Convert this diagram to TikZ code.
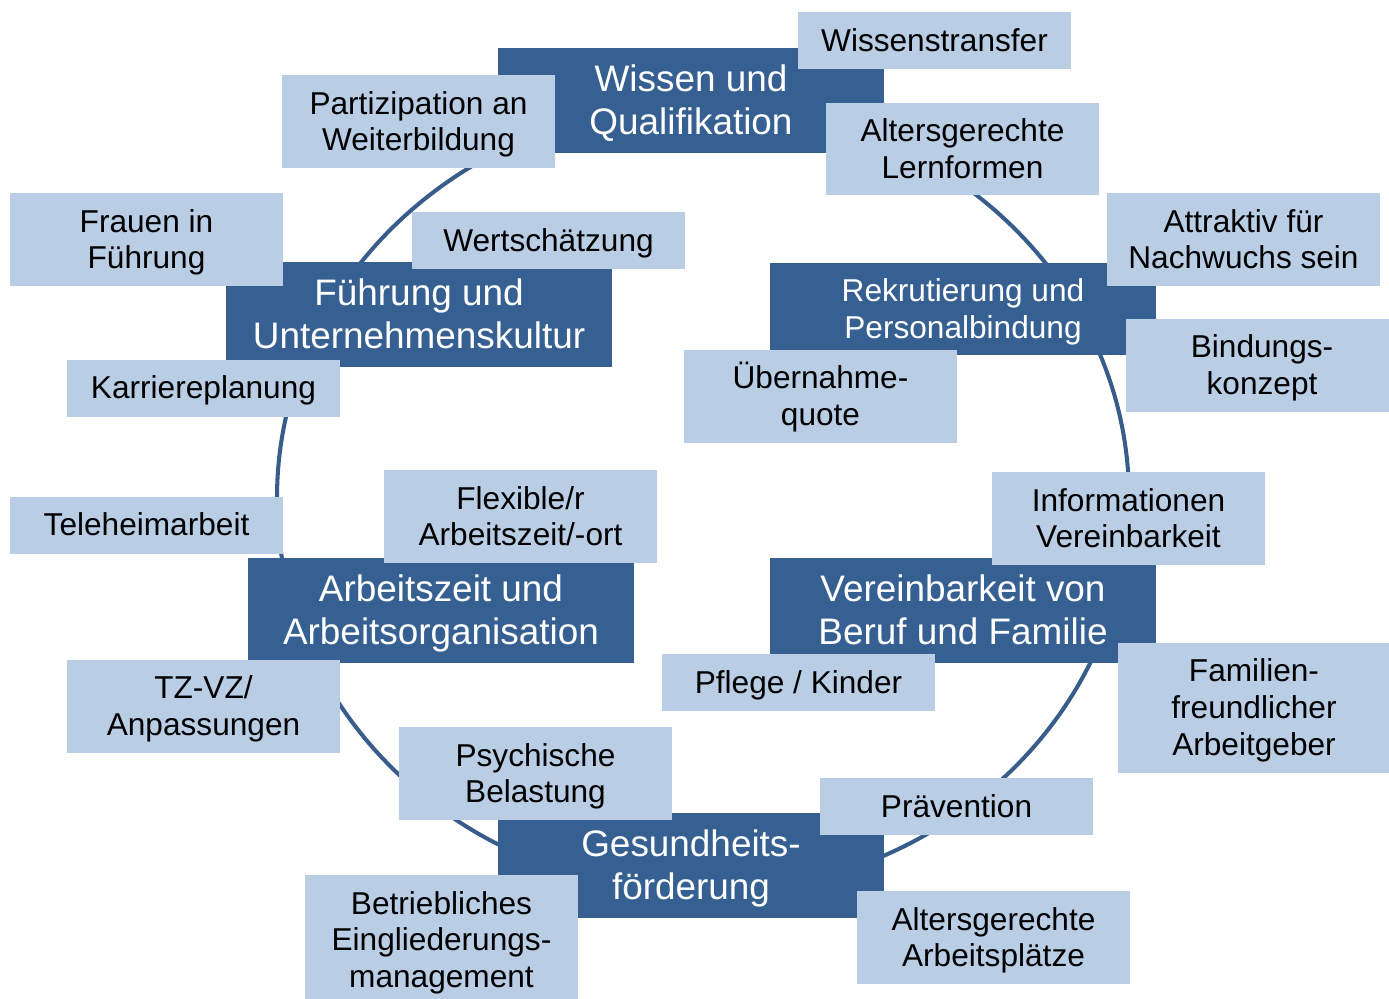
\documentclass[tikz,border=0pt]{standalone}
\usepackage{fontspec}
\setmainfont{Liberation Sans}
\definecolor{dunkelblau}{HTML}{376092}
\definecolor{hellblau}{HTML}{B9CDE5}
\definecolor{ringblau}{HTML}{385D8A}
\newcommand{\kopf}{\rule{0pt}{0.905em}}
\newcommand{\fuss}{\rule[-0.212em]{0pt}{0pt}}
\tikzset{
  haupt/.style={fill=dunkelblau,text=white,align=center,inner sep=0pt,
    minimum width=7.72cm,minimum height=2.1cm,font=\fontsize{21pt}{24.5pt}\selectfont},
  teil/.style={fill=hellblau,text=black,align=center,inner sep=0pt,
    minimum width=5.46cm,minimum height=1.86cm,font=\fontsize{18pt}{21pt}\selectfont},
  flach/.style={minimum height=1.14cm},
  hoch/.style={minimum height=2.6cm}
}
\begin{document}
\begin{tikzpicture}[x=0.02cm,y=-0.02cm]
\useasboundingbox (0,0) rectangle (1389,998);
\clip (0,0) rectangle (1389,998);
\draw[ringblau,line width=2.3pt] (703,498) ellipse [x radius=426,y radius=395];

\node[haupt] (wissen) at (691,100.5) {\kopf Wissen und\\Qualifikation\fuss};
\node[haupt] (fuehrung) at (419,314.5) {\kopf Führung und\\Unternehmenskultur\fuss};
\node[haupt,minimum height=1.84cm,font=\fontsize{18pt}{21pt}\selectfont] (rekrutierung) at (963,309) {\kopf Rekrutierung und\\Personalbindung\fuss};
\node[haupt] (arbeitszeit) at (441,610) {\kopf Arbeitszeit und\\Arbeitsorganisation\fuss};
\node[haupt] (vereinbarkeit) at (963,610) {\kopf Vereinbarkeit von\\Beruf und Familie\fuss};
\node[haupt] (gesundheit) at (691,865.5) {\kopf Gesundheits-\\förderung\fuss};

\node[teil,flach] (transfer) at (934.5,40.5) {\kopf Wissenstransfer\fuss};
\node[teil] (partizipation) at (418.5,121.5) {\kopf Partizipation an\\Weiterbildung\fuss};
\node[teil] (lernformen) at (962.5,149) {\kopf Altersgerechte\\Lernformen\fuss};
\node[teil] (frauen) at (146.5,239.5) {\kopf Frauen in\\Führung\fuss};
\node[teil,flach] (wertschaetzung) at (548.5,240.5) {\kopf Wertschätzung\fuss};
\node[teil] (attraktiv) at (1243.5,239.5) {\kopf Attraktiv für\\Nachwuchs sein\fuss};
\node[teil,flach] (karriere) at (203.5,388) {\kopf Karriereplanung\fuss};
\node[teil] (bindung) at (1262,365) {\kopf Bindungs-\\konzept\fuss};
\node[teil] (uebernahme) at (820.5,396) {\kopf Übernahme-\\quote\fuss};
\node[teil,flach] (teleheim) at (146.5,525) {\kopf Teleheimarbeit\fuss};
\node[teil] (flexibel) at (520.5,516.5) {\kopf Flexible/r\\Arbeitszeit/-ort\fuss};
\node[teil] (information) at (1128.5,518.5) {\kopf Informationen\\Vereinbarkeit\fuss};
\node[teil,flach] (pflege) at (798.5,682.5) {\kopf Pflege / Kinder\fuss};
\node[teil] (teilzeit) at (203.5,706) {\kopf TZ-VZ/\\Anpassungen\fuss};
\node[teil,hoch] (familie) at (1254,707.5) {\kopf Familien-\\freundlicher\\Arbeitgeber\fuss};
\node[teil] (psyche) at (535.5,773.5) {\kopf Psychische\\Belastung\fuss};
\node[teil,flach] (praevention) at (956.5,806.5) {\kopf Prävention\fuss};
\node[teil,hoch] (eingliederung) at (441.5,940) {\kopf Betriebliches\\Eingliederungs-\\management\fuss};
\node[teil] (arbeitsplatz) at (993.5,937.5) {\kopf Altersgerechte\\Arbeitsplätze\fuss};
\end{tikzpicture}
\end{document}
